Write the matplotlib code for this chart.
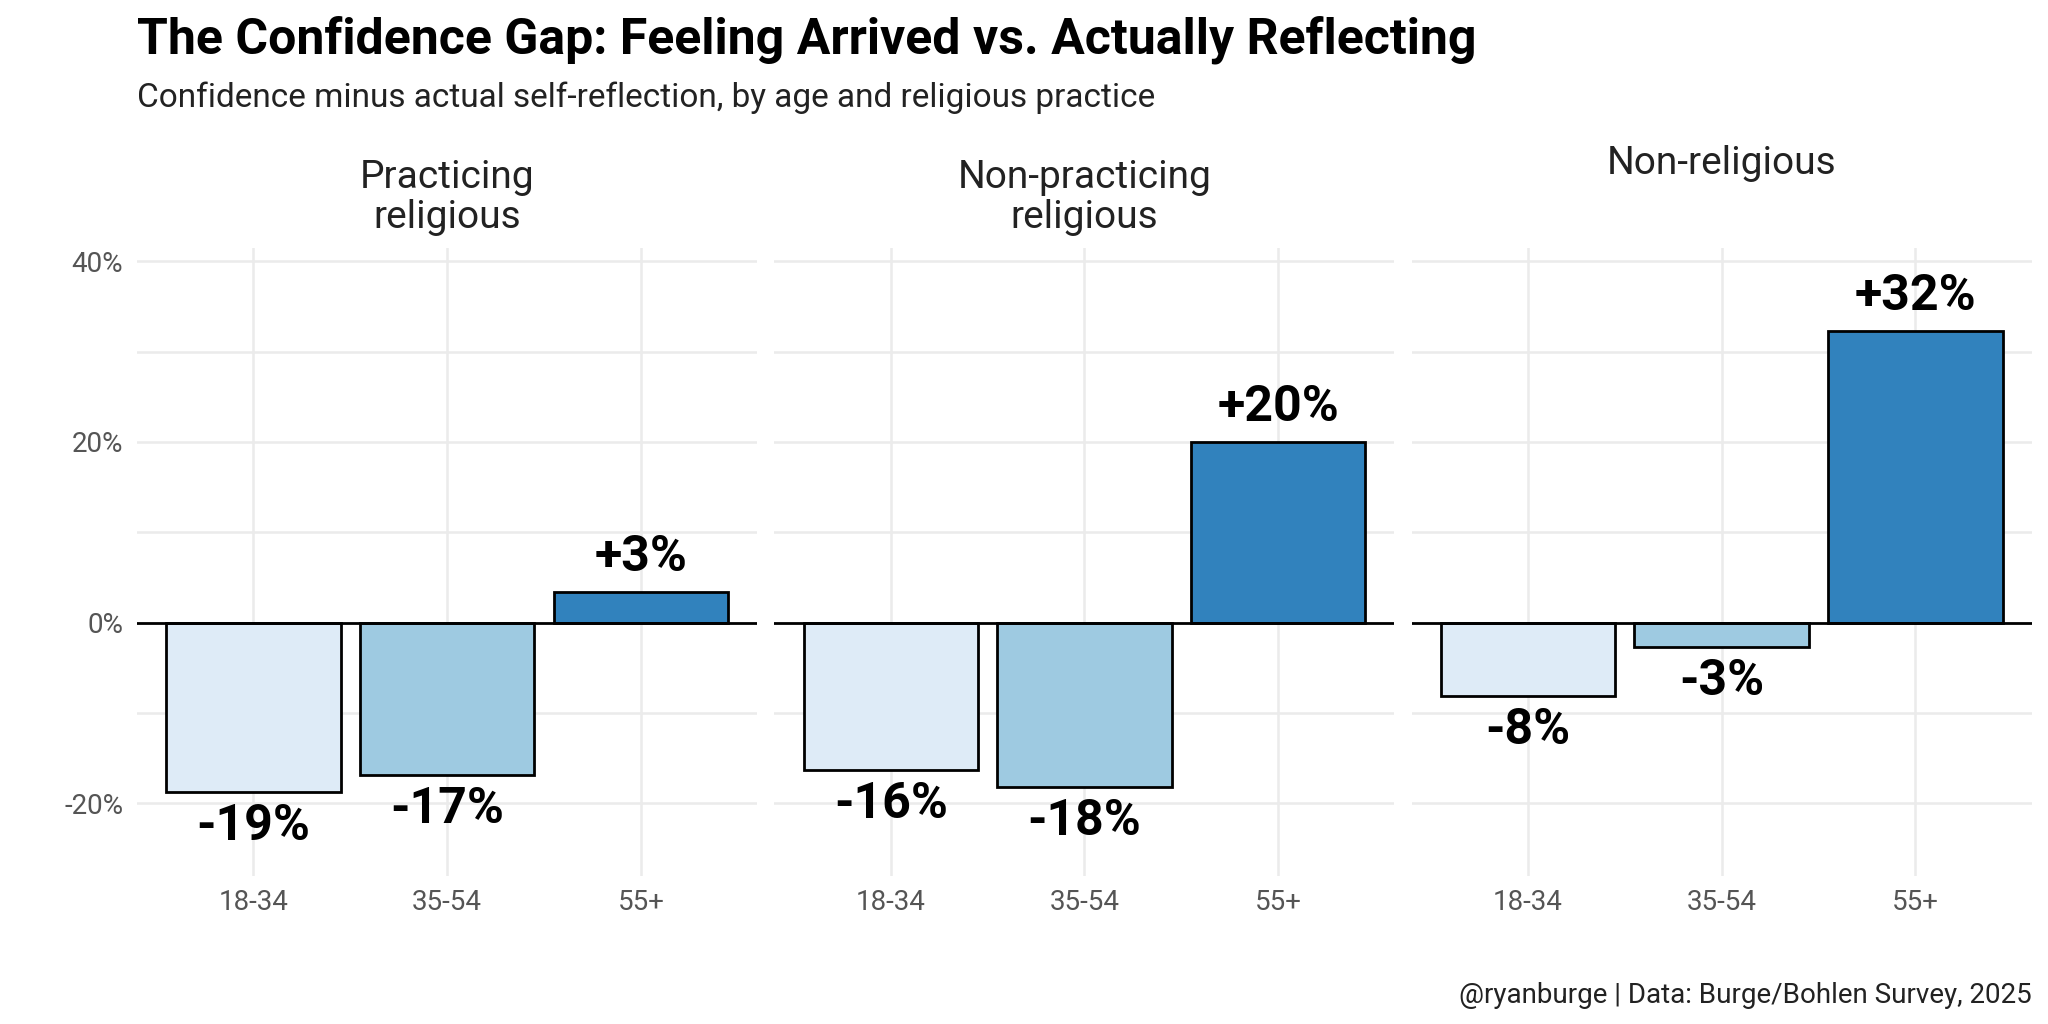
import matplotlib.pyplot as plt
import numpy as np

plt.rcParams['font.family'] = ['Liberation Sans Narrow', 'Roboto', 'DejaVu Sans']

groups = ["Practicing\nreligious", "Non-practicing\nreligious", "Non-religious"]
ages = ["18-34", "35-54", "55+"]
gap = {
    "Practicing\nreligious": [-18.8, -16.9, 3.4],
    "Non-practicing\nreligious": [-16.3, -18.2, 20.0],
    "Non-religious": [-8.1, -2.7, 32.3],
}
colors = ["#deebf7", "#9ecae1", "#3182bd"]

fig, axes = plt.subplots(1, 3, figsize=(20.48, 10.24), dpi=100, sharey=True)
fig.subplots_adjust(left=0.067, right=0.992, bottom=0.145, top=0.758, wspace=0.028)

x = np.arange(len(ages))
for ax, g in zip(axes, groups):
    vals = gap[g]
    ax.bar(x, vals, width=0.9, color=colors, edgecolor="black", linewidth=2, zorder=3)
    ax.axhline(0, color="black", linewidth=2, zorder=4)
    for xi, v in zip(x, vals):
        lab = f"{'+' if v > 0 else ''}{round(v):d}%"
        off = 1.2 if v > 0 else -1.2
        ax.text(xi, v + off, lab, ha="center", va="bottom" if v > 0 else "top",
                fontsize=36, fontweight="bold", color="black", zorder=5)
    ax.set_xlim(-0.6, 2.6)
    ax.set_ylim(-28, 41.5)
    ax.set_xticks(x)
    ax.set_xticklabels(ages, fontsize=20, color="#555555")
    ax.set_yticks([-20, 0, 20, 40])
    ax.set_yticks([-10, 10, 30], minor=True)
    ax.set_yticklabels(["-20%", "0%", "20%", "40%"], fontsize=20, color="#555555")
    ax.grid(True, which="both", color="#ebebeb", linewidth=1.8, zorder=0)
    ax.tick_params(length=0, which="both", pad=10)
    for s in ax.spines.values():
        s.set_visible(False)
    if "\n" in g:
        ax.set_title(g, fontsize=28, color="#222222", pad=14, linespacing=1.1)
    else:
        ax.text(0.5, 1.135, g, transform=ax.transAxes, ha="center", va="center",
                fontsize=28, color="#222222")

fig.text(0.067, 0.985, "The Confidence Gap: Feeling Arrived vs. Actually Reflecting",
         fontsize=36, fontweight="bold", va="top")
fig.text(0.067, 0.92, "Confidence minus actual self-reflection, by age and religious practice",
         fontsize=24, va="top", color="#222222")
fig.text(0.992, 0.015, "@ryanburge | Data: Burge/Bohlen Survey, 2025",
         fontsize=20, ha="right", va="bottom", color="#222222")

fig.savefig("out.png", dpi=100)
